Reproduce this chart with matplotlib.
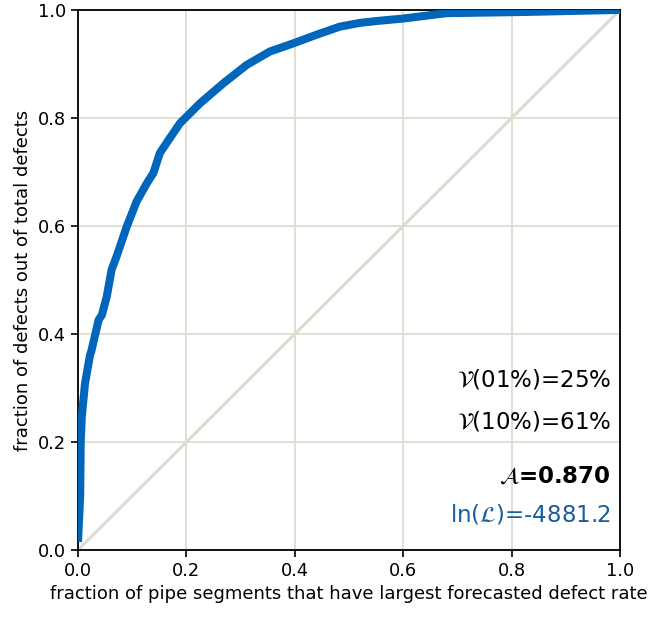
import matplotlib
matplotlib.use("Agg")
import matplotlib.pyplot as plt

# cumulative share of defects captured vs share of pipe segments inspected
x_frac = [0.0, 0.004, 0.005, 0.007, 0.013, 0.022, 0.025, 0.038, 0.044, 0.053,
          0.062, 0.071, 0.09, 0.108, 0.127, 0.139, 0.151, 0.167, 0.188, 0.225,
          0.268, 0.311, 0.354, 0.397, 0.44, 0.483, 0.52, 0.557, 0.6, 0.68,
          0.815, 1.0]
y_frac = [0.015, 0.1, 0.2, 0.247, 0.309, 0.36, 0.37, 0.426, 0.435, 0.469,
          0.519, 0.543, 0.599, 0.645, 0.679, 0.698, 0.735, 0.759, 0.79, 0.827,
          0.864, 0.898, 0.923, 0.938, 0.954, 0.969, 0.976, 0.98, 0.984, 0.994,
          0.996, 1.0]

ticks = [0.0, 0.2, 0.4, 0.6, 0.8, 1.0]
stats = [r"$\mathcal{V}$(01%)=25%", r"$\mathcal{V}$(10%)=61%"]
area_label = r"$\mathcal{A}$=0.870"
loglik_label = r"ln($\mathcal{L}$)=-4881.2"

fig = plt.figure(figsize=(6.5, 6.19), dpi=100)
ax = fig.add_axes([0.12, 0.1115, 0.834, 0.8725])

grid_col = "#dddcd0"
ax.plot([0, 1], [0, 1], color=grid_col, lw=2.3, zorder=2)
ax.plot(x_frac, y_frac, color="#0066bb", lw=5.8, zorder=3,
        solid_joinstyle="round", solid_capstyle="butt")

ax.set_xlim(0, 1)
ax.set_ylim(0, 1)
ax.set_xticks(ticks)
ax.set_yticks(ticks)
ax.tick_params(labelsize=12.8, length=5, width=1.2)
ax.grid(True, color=grid_col, lw=1.3)
ax.set_axisbelow(True)
for s in ax.spines.values():
    s.set_linewidth(1.3)

ax.set_xlabel("fraction of pipe segments that have largest forecasted defect rate", fontsize=13)
ax.set_ylabel("fraction of defects out of total defects", fontsize=13)

tx = 0.983
ax.text(tx, 0.315, stats[0], ha="right", va="center", fontsize=16.5)
ax.text(tx, 0.237, stats[1], ha="right", va="center", fontsize=16.5)
ax.text(tx, 0.137, area_label, ha="right", va="center", fontsize=16.5, fontweight="bold")
ax.text(tx, 0.065, loglik_label, ha="right", va="center", fontsize=16.5, color="#1a5c9e")

fig.savefig("out.png", dpi=100)
